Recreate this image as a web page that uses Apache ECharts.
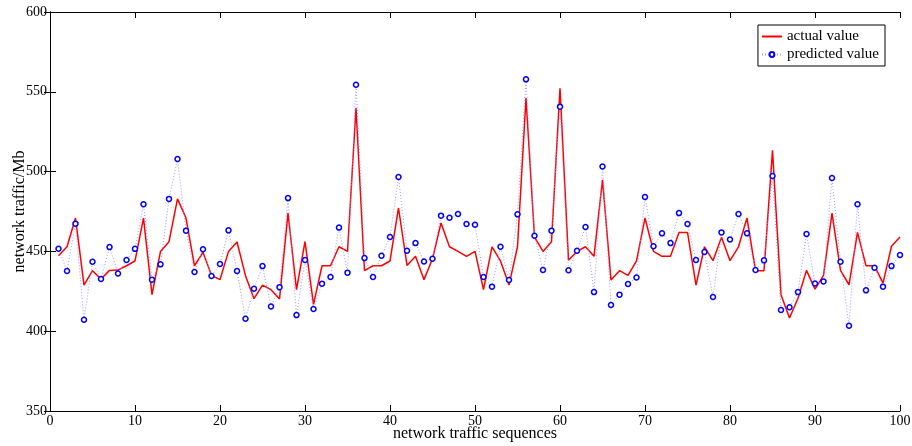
<!DOCTYPE html>
<html>
<head>
<meta charset="utf-8">
<script src="https://cdn.jsdelivr.net/npm/echarts@6/dist/echarts.min.js"></script>
<style>
  html, body { margin: 0; padding: 0; background: #fff; }
  #chart { width: 912px; height: 446px; }
</style>
</head>
<body>
<div id="chart"></div>
<script>
// Sequence indices 1..100
const sequences = Array.from({ length: 100 }, (_, k) => k + 1);

const actualValues = [
  447.3, 452.9, 470.9, 428.9, 437.9, 432.7, 438.1, 438.3, 441.0, 444.0,
  470.9, 422.9, 450.0, 456.1, 482.9, 470.9, 441.0, 449.4, 435.0, 432.3,
  450.0, 455.9, 434.8, 420.4, 428.9, 426.0, 420.2, 474.0, 426.0, 456.1,
  416.8, 441.0, 441.0, 452.9, 450.0, 539.8, 437.9, 441.0, 441.0, 444.0,
  477.2, 441.2, 446.9, 432.3, 445.4, 467.8, 452.9, 450.0, 446.9, 450.0,
  426.0, 452.9, 444.0, 428.9, 452.9, 546.1, 459.0, 450.0, 456.1, 552.2,
  444.5, 450.0, 452.9, 446.9, 494.9, 432.1, 437.9, 435.0, 444.0, 470.9,
  450.0, 446.9, 446.9, 461.9, 461.9, 428.9, 452.9, 444.2, 458.8, 444.2,
  452.9, 470.9, 437.9, 437.9, 513.3, 422.9, 408.3, 420.6, 438.1, 426.4,
  435.0, 474.0, 438.1, 429.1, 461.9, 441.0, 441.0, 430.1, 453.2, 459.0
];

const predictedValues = [
  451.7, 437.7, 467.4, 407.2, 443.5, 432.7, 452.7, 436.2, 444.6, 451.6,
  479.5, 432.3, 441.9, 482.9, 507.9, 463.0, 437.1, 451.3, 434.6, 442.1,
  463.2, 437.7, 407.8, 426.6, 440.8, 415.5, 427.6, 483.4, 410.1, 444.6,
  413.9, 429.8, 434.0, 464.9, 436.7, 554.4, 445.8, 434.0, 447.3, 459.0,
  496.6, 450.4, 455.2, 443.7, 445.4, 472.4, 471.1, 473.4, 467.2, 466.7,
  434.0, 427.9, 452.9, 432.1, 473.2, 557.8, 459.8, 438.3, 463.0, 540.7,
  438.2, 450.4, 465.3, 424.5, 503.2, 416.4, 422.9, 429.6, 433.6, 484.1,
  453.2, 461.3, 455.2, 474.0, 467.2, 444.6, 449.6, 421.4, 461.9, 457.5,
  473.4, 461.3, 438.3, 444.4, 497.2, 413.3, 415.0, 424.5, 460.9, 429.9,
  431.2, 496.0, 443.5, 403.4, 479.5, 425.6, 439.8, 427.9, 440.8, 447.7
];

const xTicks = [0, 10, 20, 30, 40, 50, 60, 70, 80, 90, 100];
const yTicks = [350, 400, 450, 500, 550, 600];

const FONT = '"Liberation Serif", "DejaVu Serif", serif';

const chart = echarts.init(document.getElementById('chart'), null, { renderer: 'canvas' });

const frameAxisLine = { show: true, lineStyle: { color: '#000', width: 1 } };
const innerTick = { show: true, inside: true, length: 6, lineStyle: { color: '#000', width: 1 } };

chart.setOption({
  animation: false,
  backgroundColor: '#fff',
  grid: { left: 50, right: 12, top: 12, bottom: 35, containLabel: false, outerBoundsMode: 'none' },
  legend: {
    right: 27,
    top: 25,
    orient: 'vertical',
    align: 'left',
    backgroundColor: '#fff',
    borderColor: '#000',
    borderWidth: 1,
    borderRadius: 0,
    padding: [4, 6, 4, 3],
    itemGap: 3,
    itemWidth: 20,
    itemHeight: 6,
    textStyle: { fontFamily: FONT, fontSize: 15, color: '#000' },
    data: [
      { name: 'actual value', itemStyle: { opacity: 0 } },
      { name: 'predicted value' }
    ]
  },
  xAxis: [
    {
      type: 'value', min: xTicks[0], max: xTicks[xTicks.length - 1], interval: 10,
      position: 'bottom',
      name: 'network traffic sequences', nameLocation: 'middle', nameGap: 15,
      nameMoveOverlap: false,
      nameTextStyle: { fontFamily: FONT, fontSize: 16, color: '#000' },
      axisLine: frameAxisLine, axisTick: innerTick,
      axisLabel: { fontFamily: FONT, fontSize: 14, color: '#000', margin: 3 },
      splitLine: { show: false }
    },
    {
      type: 'value', min: xTicks[0], max: xTicks[xTicks.length - 1], interval: 10,
      position: 'top',
      axisLine: frameAxisLine, axisTick: innerTick,
      axisLabel: { show: false }, splitLine: { show: false }
    }
  ],
  yAxis: [
    {
      type: 'value', min: yTicks[0], max: yTicks[yTicks.length - 1], interval: 50,
      position: 'left',
      name: 'network traffic/Mb', nameLocation: 'middle', nameGap: 22, nameRotate: 90,
      nameMoveOverlap: false,
      nameTextStyle: { fontFamily: FONT, fontSize: 16, color: '#000' },
      axisLine: frameAxisLine, axisTick: innerTick,
      axisLabel: { fontFamily: FONT, fontSize: 14, color: '#000', margin: 3 },
      splitLine: { show: false }
    },
    {
      type: 'value', min: yTicks[0], max: yTicks[yTicks.length - 1], interval: 50,
      position: 'right',
      axisLine: frameAxisLine, axisTick: innerTick,
      axisLabel: { show: false }, splitLine: { show: false }
    }
  ],
  series: [
    {
      name: 'actual value',
      type: 'line',
      data: sequences.map((s, k) => [s, actualValues[k]]),
      showSymbol: false,
      symbol: 'none',
      lineStyle: { color: '#ff0000', width: 1.5 },
      itemStyle: { color: '#ff0000' },
      z: 3
    },
    {
      name: 'predicted value',
      type: 'line',
      data: sequences.map((s, k) => [s, predictedValues[k]]),
      symbol: 'circle',
      symbolSize: 5,
      showAllSymbol: true,
      lineStyle: { color: '#9a9aff', width: 1, type: [1, 2] },
      itemStyle: { color: '#ffffff', borderColor: '#0000ff', borderWidth: 1.5 },
      z: 4
    }
  ]
});
</script>
</body>
</html>
